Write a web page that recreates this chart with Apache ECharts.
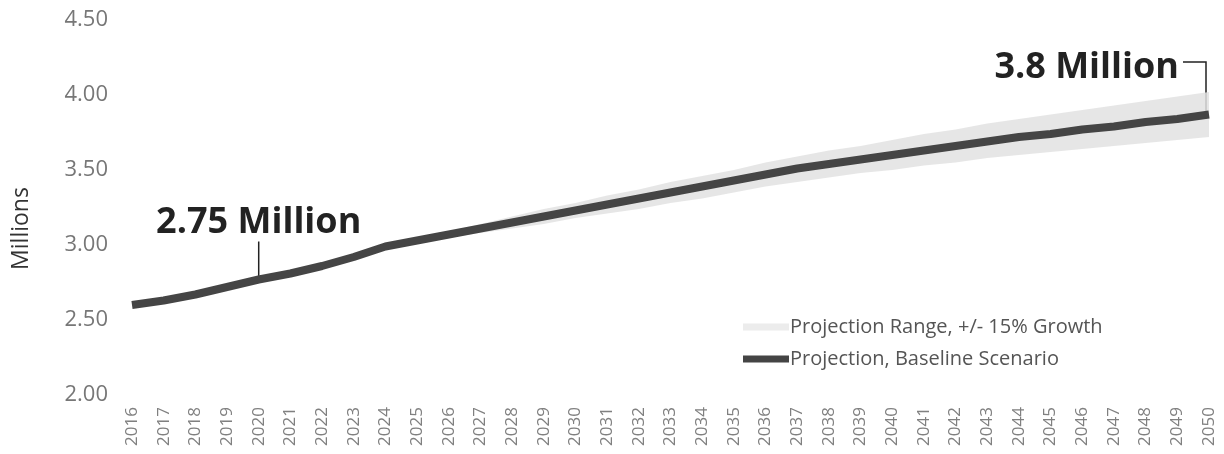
<!DOCTYPE html>
<html><head><meta charset="utf-8">
<script src="https://cdn.jsdelivr.net/npm/echarts@6/dist/echarts.min.js"></script>
<style>html,body{margin:0;padding:0;background:#fff}#c{width:1224px;height:454px}</style>
</head><body><div id="c"></div>
<script>
const years = ['2016','2017','2018','2019','2020','2021','2022','2023','2024','2025','2026','2027','2028','2029','2030','2031','2032','2033','2034','2035','2036','2037','2038','2039','2040','2041','2042','2043','2044','2045','2046','2047','2048','2049','2050'];
const baseline = [2.60,2.63,2.67,2.72,2.77,2.81,2.86,2.92,2.99,3.03,3.07,3.11,3.15,3.19,3.23,3.27,3.31,3.35,3.39,3.43,3.47,3.51,3.54,3.57,3.60,3.63,3.66,3.69,3.72,3.74,3.77,3.79,3.82,3.84,3.87];
const rangeLow  = [null,null,null,null,null,null,null,null,2.99,3.02,3.05,3.08,3.11,3.14,3.18,3.21,3.24,3.28,3.31,3.35,3.39,3.42,3.45,3.48,3.50,3.53,3.55,3.58,3.60,3.62,3.64,3.66,3.68,3.70,3.72];
const rangeHigh = [null,null,null,null,null,null,null,null,2.99,3.04,3.09,3.14,3.19,3.24,3.28,3.33,3.37,3.42,3.46,3.50,3.55,3.59,3.63,3.66,3.70,3.74,3.77,3.81,3.84,3.87,3.90,3.93,3.96,3.99,4.02];
const yTicks = [2.0, 2.5, 3.0, 3.5, 4.0, 4.5];
const notes = [
  {text: '2.75 Million', year: '2020', value: 2.77, labelValue: 3.15},
  {text: '3.8 Million', year: '2050', value: 3.87, labelValue: 4.18}
];
const rangeName = 'Projection Range, +/- 15% Growth';
const baseName = 'Projection, Baseline Scenario';

const rangeDiff = rangeHigh.map((h, i) => (h == null ? null : +(h - rangeLow[i]).toFixed(3)));

const chart = echarts.init(document.getElementById('c'));
const font = 'Open Sans';
chart.setOption({
  animation: false,
  grid: {left: 132, right: 15, top: 20, bottom: 59},
  xAxis: {
    type: 'category', data: years, boundaryGap: false,
    axisLine: {show: false}, axisTick: {show: false},
    axisLabel: {rotate: 90, fontSize: 17, color: '#808080', fontFamily: font, margin: 12, interval: 0}
  },
  yAxis: {
    type: 'value', min: yTicks[0], max: yTicks[yTicks.length - 1], interval: 0.5,
    name: 'Millions', nameLocation: 'middle', nameGap: 99, nameRotate: 90,
    nameTextStyle: {fontSize: 23, color: '#333', fontFamily: font, padding: [0, 42, 0, 0]},
    axisLine: {show: false}, axisTick: {show: false}, splitLine: {show: false},
    axisLabel: {formatter: v => v.toFixed(2), fontSize: 22, color: '#777', fontFamily: font, margin: 24}
  },
  legend: {
    orient: 'vertical', left: 738, top: 312, itemGap: 12, itemWidth: 46, itemHeight: 7,
    textStyle: {fontSize: 20, color: '#555', fontFamily: font, padding: [0, 0, 0, -4]},
    data: [
      {name: rangeName, icon: 'rect', itemStyle: {color: '#ececec'}},
      {name: baseName, icon: 'rect', itemStyle: {color: '#444'}}
    ]
  },
  series: [
    {name: 'low', type: 'line', data: rangeLow, stack: 'band', symbol: 'none',
     lineStyle: {opacity: 0}, areaStyle: {opacity: 0}, silent: true},
    {name: rangeName, type: 'line', data: rangeDiff, stack: 'band', symbol: 'none',
     lineStyle: {opacity: 0}, areaStyle: {color: '#e2e2e2', opacity: 0.85}, itemStyle: {color: '#ececec'}},
    {name: baseName, type: 'line', data: baseline, symbol: 'none', smooth: false,
     lineStyle: {color: '#454545', width: 8}, itemStyle: {color: '#454545'}}
  ]
});

function drawNotes() {
  const g = [];
  const n0 = notes[0];
  const p0 = chart.convertToPixel({seriesIndex: 2}, [n0.year, n0.value]);
  const l0 = chart.convertToPixel({seriesIndex: 2}, [n0.year, n0.labelValue]);
  g.push({type: 'text', x: l0[0], y: l0[1], style: {text: n0.text, font: 'bold 36px "Open Sans"', fill: '#222', align: 'center', verticalAlign: 'middle'}});
  g.push({type: 'line', shape: {x1: p0[0], y1: l0[1] + 19, x2: p0[0], y2: p0[1] - 3}, style: {stroke: '#222', lineWidth: 1.5}});
  const n1 = notes[1];
  const p1 = chart.convertToPixel({seriesIndex: 2}, [n1.year, n1.value]);
  const l1 = chart.convertToPixel({seriesIndex: 2}, [n1.year, n1.labelValue]);
  g.push({type: 'text', x: l1[0] - 30, y: l1[1], style: {text: n1.text, font: 'bold 36px "Open Sans"', fill: '#222', align: 'right', verticalAlign: 'middle'}});
  g.push({type: 'polyline', shape: {points: [[l1[0] - 26, l1[1] - 6], [p1[0] - 3, l1[1] - 6], [p1[0] - 3, p1[1] - 3]]}, style: {stroke: '#222', lineWidth: 1.5, fill: null}});
  chart.setOption({graphic: g});
}
drawNotes();
</script>
</body></html>
